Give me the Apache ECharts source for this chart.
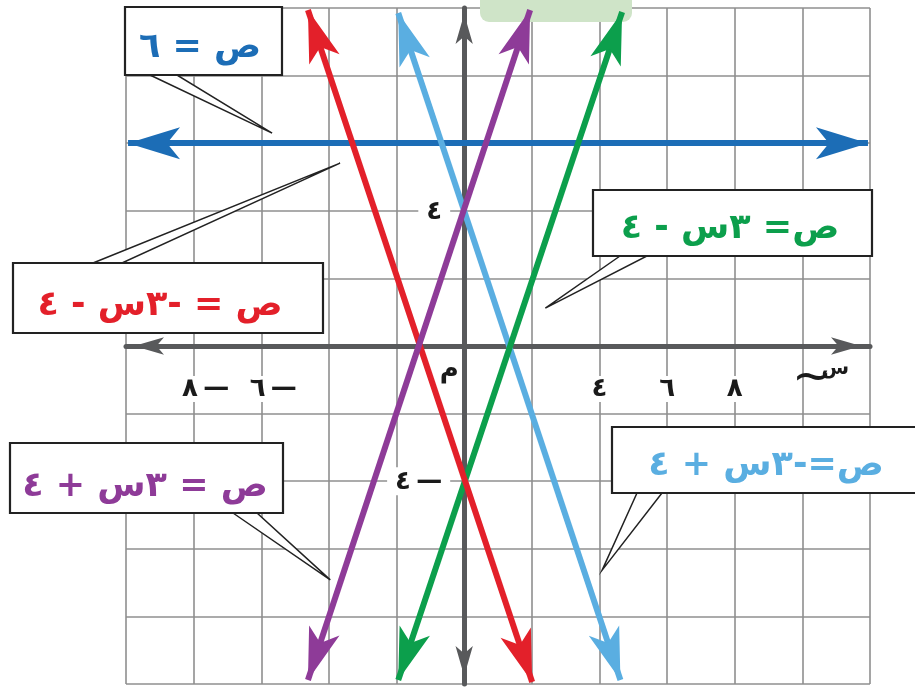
<!DOCTYPE html>
<html><head><meta charset="utf-8">
<script src="https://cdn.jsdelivr.net/npm/echarts@6/dist/echarts.min.js"></script>
<style>html,body{margin:0;padding:0;background:#fff}#c{width:915px;height:687px}</style>
</head><body><div id="c"></div>
<script>
// ---- data ----
const xLabelValues = [-8, -6, 4, 6, 8];
const xLabelTexts = ['٨\u2009—', '٦\u2009—', '٤', '٦', '٨'];
const yLabelValues = [4, -4];
const yLabelTexts = ['٤', '٤\u2009—'];
const originLabel = 'م';
const xAxisName = 'س';

const lineNames = ['ص = ٦', 'ص = -٣س - ٤', 'ص= ٣س - ٤', 'ص = ٣س + ٤', 'ص=-٣س + ٤'];
const lineStarts = [[-9.94, 6], [-4.62, 9.94], [4.67, 9.88], [1.95, 9.94], [-1.95, 9.85]];
const lineEnds = [[11.94, 6], [2.01, -9.94], [-1.95, -9.88], [-4.62, -9.88], [4.62, -9.88]];
const calloutTips = [[-5.68, 6.3], [-3.67, 5.41], [2.4, 1.12], [-3.96, -6.92], [4.08, -6.63]];

// ---- styles / layout ----
const lineColors = ['#1c6db6', '#e3202a', '#0c9f4c', '#8e3b98', '#5aaee1'];
const drawOrder = [0, 4, 2, 1, 3];
const AX = '#58595b';
const FONT = '"DejaVu Sans", "Noto Sans", sans-serif';
const G = { left: 126, right: 45, top: 8, bottom: 3 };
const boxes = [
  { r: [125, 7, 157, 68], b: [[150, 75], [177, 75]], t: [200, 48] },
  { r: [13, 263, 310, 70], b: [[93, 263], [122, 263]], t: [160, 306] },
  { r: [593, 190, 279, 66], b: [[620, 256], [647, 256]], t: [730, 229] },
  { r: [10, 443, 273, 70], b: [[233, 513], [257, 513]], t: [145, 487] },
  { r: [612, 427, 320, 66], b: [[637, 493], [662, 493]], t: [766, 466] }
];

const chart = echarts.init(document.getElementById('c'), null, { renderer: 'canvas' });

function labelFmt(values, texts, negPrefix) {
  return function (v) {
    const i = values.indexOf(Math.round(v * 1000) / 1000);
    if (i < 0) return '';
    return (v < 0 ? negPrefix : '') + '{p|' + texts[i] + '}';
  };
}

const labelBase = { fontFamily: FONT, fontWeight: 'bold', fontSize: 26, color: '#1a1a1a', backgroundColor: '#fff', lineHeight: 28 };

// pixel offsets that put the axes on the zero lines of the fixed grid
const gw = 915 - G.left - G.right, gh = 687 - G.top - G.bottom;
const xMin = -10, xMax = 12, yMin = -10, yMax = 10;
const yAxisOffset = -gw * (0 - xMin) / (xMax - xMin);
const xAxisOffset = -gh * (0 - yMin) / (yMax - yMin);

const markLines = drawOrder.map(function (i, k) {
  return {
    type: 'line', name: lineNames[i], data: [], silent: true, z: 3 + k,
    markLine: {
      silent: true, animation: false, symbol: ['arrow', 'arrow'],
      label: { show: false }, emphasis: { disabled: true },
      lineStyle: { color: lineColors[i], width: 6, type: 'solid', opacity: 1 },
      itemStyle: { color: lineColors[i] },
      data: [[
        { coord: lineStarts[i], symbol: 'arrow', symbolSize: [24, 52] },
        { coord: lineEnds[i], symbol: 'arrow', symbolSize: [24, 52] }
      ]]
    }
  };
});

chart.setOption({
  animation: false,
  backgroundColor: '#fff',
  grid: { left: G.left, right: G.right, top: G.top, bottom: G.bottom, containLabel: false, outerBoundsMode: 'none' },
  xAxis: {
    type: 'value', min: xMin, max: xMax, interval: 2, position: 'bottom', offset: xAxisOffset,
    axisLine: { show: true, onZero: false, symbol: ['arrow', 'arrow'], symbolSize: [13, 30], symbolOffset: [8, -9], lineStyle: { color: AX, width: 5 } },
    axisTick: { show: false },
    splitLine: { show: true, lineStyle: { color: '#8f8f8f', width: 1.6 } },
    axisLabel: {
      show: true, margin: 29, showMinLabel: true, showMaxLabel: true,
      formatter: labelFmt(xLabelValues, xLabelTexts, '{s| }'),
      rich: {
        s: { width: 24, fontSize: 26, lineHeight: 28 },
        p: Object.assign({}, labelBase, { padding: [0, 4, 0, 4] })
      }
    }
  },
  yAxis: {
    type: 'value', min: yMin, max: yMax, interval: 2, position: 'left', offset: yAxisOffset,
    axisLine: { show: true, onZero: false, symbol: ['arrow', 'arrow'], symbolSize: [13, 30], symbolOffset: [8, -6], lineStyle: { color: AX, width: 5 } },
    axisTick: { show: false },
    splitLine: { show: true, lineStyle: { color: '#8f8f8f', width: 1.6 } },
    axisLabel: {
      show: true, margin: 14,
      formatter: labelFmt(yLabelValues, yLabelTexts, ''),
      rich: {
        p: Object.assign({}, labelBase, { padding: [2, 8, 0, 8] })
      }
    }
  },
  series: markLines
});

// ---- annotations ----
const g = [];
g.push({ type: 'rect', z: 1, shape: { x: 480, y: -12, width: 152, height: 34, r: 9 }, style: { fill: '#cfe4c8' } });
boxes.forEach(function (bx, i) {
  const tip = chart.convertToPixel({ gridIndex: 0 }, calloutTips[i]);
  g.push({ type: 'polygon', z: 100, shape: { points: [bx.b[0], tip, bx.b[1]] }, style: { fill: '#fff', stroke: '#222', lineWidth: 1.5 } });
  g.push({ type: 'rect', z: 101, shape: { x: bx.r[0], y: bx.r[1], width: bx.r[2], height: bx.r[3] }, style: { fill: '#fff', stroke: '#222', lineWidth: 2.2 } });
  g.push({ type: 'text', z: 102, style: { text: lineNames[i], x: bx.t[0], y: bx.t[1], align: 'center', verticalAlign: 'middle', font: 'bold 35px ' + FONT, fill: lineColors[i] } });
});
const o = chart.convertToPixel({ gridIndex: 0 }, [0, 0]);
g.push({ type: 'text', z: 50, style: { text: originLabel, x: o[0] - 15, y: o[1] + 24, align: 'center', verticalAlign: 'middle', font: 'bold 26px ' + FONT, fill: '#1a1a1a' } });
const e = chart.convertToPixel({ gridIndex: 0 }, [11, 0]);
g.push({ type: 'text', z: 50, style: { text: '~', x: e[0] - 24, y: e[1] + 34, align: 'center', verticalAlign: 'middle', font: '48px ' + FONT, fill: '#1a1a1a' } });
g.push({ type: 'text', z: 50, style: { text: xAxisName, x: e[0] - 1, y: e[1] + 23, align: 'center', verticalAlign: 'middle', font: 'bold 20px ' + FONT, fill: '#1a1a1a' } });
chart.setOption({ graphic: g });
</script></body></html>
